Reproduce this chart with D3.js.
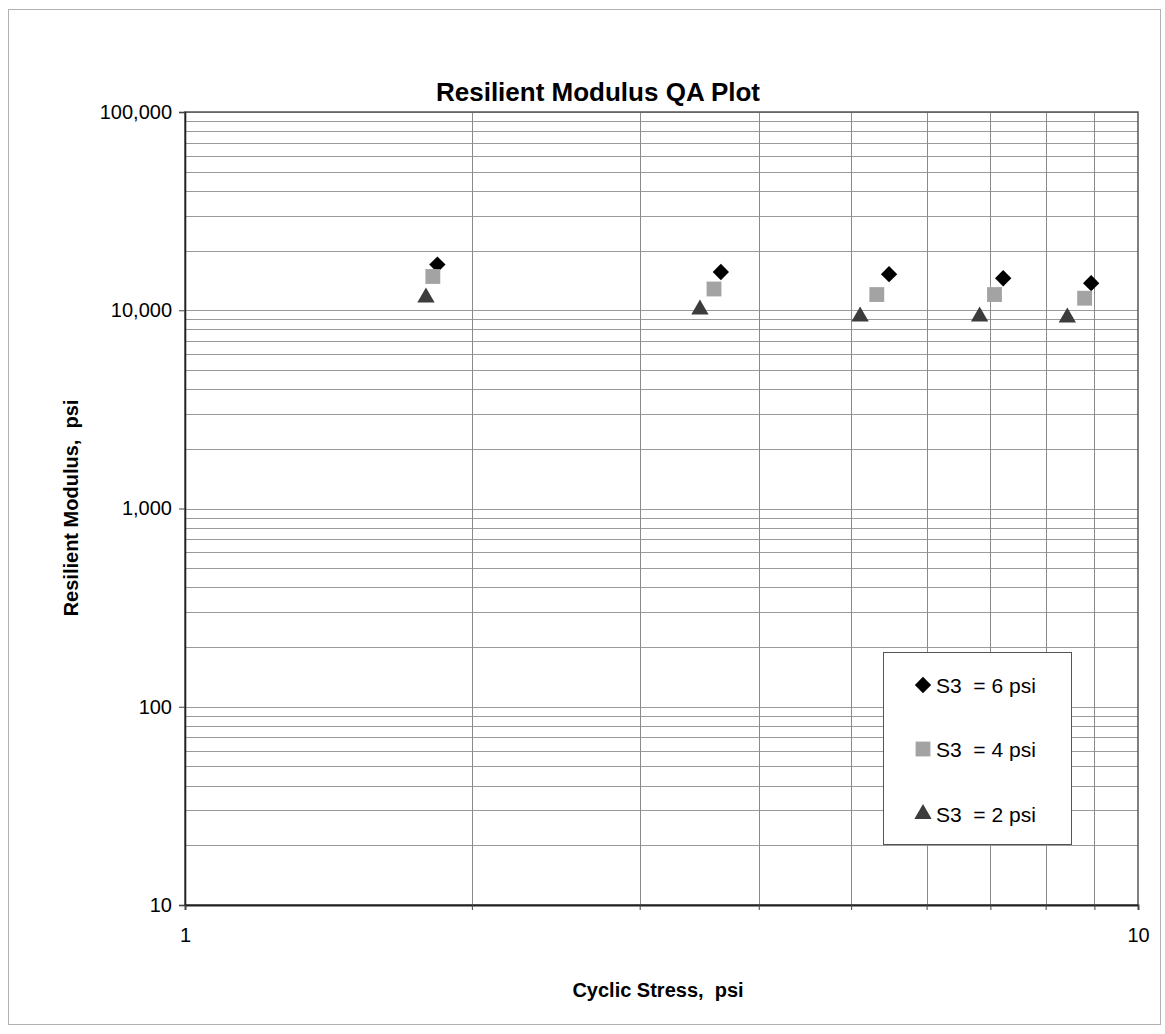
<!DOCTYPE html>
<html>
<head>
<meta charset="utf-8">
<script src="https://cdn.jsdelivr.net/npm/d3@7"></script>
<style>
  html, body { margin: 0; padding: 0; background: #fff; }
  svg { display: block; }
  text { font-family: "Liberation Sans", Arial, sans-serif; fill: #000; }
</style>
</head>
<body>
<svg id="chart" width="1165" height="1034"></svg>
<script>
// ---- Data ----
const seriesNames = ["S3  = 6 psi", "S3  = 4 psi", "S3  = 2 psi"];
const s6x = [1.84, 3.65, 5.48, 7.22, 8.93];
const s6y = [17000, 15600, 15200, 14500, 13700];
const s4x = [1.82, 3.59, 5.32, 7.07, 8.79];
const s4y = [14800, 12800, 12000, 12000, 11500];
const s2x = [1.79, 3.47, 5.11, 6.82, 8.43];
const s2y = [11600, 10100, 9300, 9300, 9200];
const yTickValues = [10, 100, 1000, 10000, 100000];
const xTickLabels = [1, 10];

const titleText = "Resilient Modulus QA Plot";
const xTitle = "Cyclic Stress,  psi";
const yTitle = "Resilient Modulus,  psi";

// ---- Layout ----
const W = 1165, H = 1034;
const plot = { left: 185, right: 1138, top: 112, bottom: 905 };

const svg = d3.select("#chart");

// outer chart border
svg.append("rect")
  .attr("x", 8.5).attr("y", 9.5)
  .attr("width", 1152).attr("height", 1015)
  .attr("fill", "#fff").attr("stroke", "#b0b0b0").attr("stroke-width", 1);

const x = d3.scaleLog().domain([1, 10]).range([plot.left, plot.right]);
const y = d3.scaleLog().domain([10, 100000]).range([plot.bottom, plot.top]);

// gridlines
const hGrid = [];
for (let e = 1; e < 5; e++) for (let m = 1; m <= 9; m++) hGrid.push(m * Math.pow(10, e));
hGrid.push(100000);
const vGrid = [2, 3, 4, 5, 6, 7, 8, 9];

const g = svg.append("g");
g.selectAll("line.hg").data(hGrid).enter().append("line")
  .attr("class", "hg")
  .attr("x1", plot.left).attr("x2", plot.right)
  .attr("y1", d => Math.round(y(d)) + 0.5).attr("y2", d => Math.round(y(d)) + 0.5)
  .attr("stroke", "#9a9a9a").attr("stroke-width", 1);
g.selectAll("line.vg").data(vGrid).enter().append("line")
  .attr("class", "vg")
  .attr("y1", plot.top).attr("y2", plot.bottom)
  .attr("x1", d => Math.round(x(d)) + 0.5).attr("x2", d => Math.round(x(d)) + 0.5)
  .attr("stroke", "#8a8a8a").attr("stroke-width", 1);

// plot area border
svg.append("rect")
  .attr("x", plot.left).attr("y", plot.top)
  .attr("width", plot.right - plot.left).attr("height", plot.bottom - plot.top)
  .attr("fill", "none").attr("stroke", "#555").attr("stroke-width", 1.5);

// axes
const yAxis = d3.axisLeft(y).tickValues(yTickValues).tickFormat(d3.format(",")).tickSize(6).tickPadding(7);
const yg = svg.append("g").attr("transform", `translate(${plot.left},0)`).call(yAxis);
yg.select(".domain").attr("stroke", "#222").attr("stroke-width", 1.6);
yg.selectAll(".tick line").attr("stroke", "#444");
yg.selectAll("text").attr("font-size", 20).attr("fill", "#111")
  .style("font-family", '"Liberation Sans", Arial, sans-serif');

const xAxis = d3.axisBottom(x).tickValues([1, 2, 3, 4, 5, 6, 7, 8, 9, 10])
  .tickFormat(d => xTickLabels.includes(d) ? String(d) : "").tickSize(5).tickPadding(18);
const xg = svg.append("g").attr("transform", `translate(0,${plot.bottom})`).call(xAxis);
xg.select(".domain").attr("stroke", "#222").attr("stroke-width", 1.8);
xg.selectAll(".tick line").attr("stroke", "#444");
xg.selectAll("text").attr("font-size", 20).attr("fill", "#111")
  .style("font-family", '"Liberation Sans", Arial, sans-serif');

// markers
const diamond = d3.symbol().type(d3.symbolDiamond2).size(170);
const square = d3.symbol().type(d3.symbolSquare).size(220);
const triangle = d3.symbol().type(d3.symbolTriangle).size(130);

const series = [
  { name: seriesNames[0], xs: s6x, ys: s6y, sym: diamond, fill: "#000" },
  { name: seriesNames[1], xs: s4x, ys: s4y, sym: square, fill: "#a3a3a3" },
  { name: seriesNames[2], xs: s2x, ys: s2y, sym: triangle, fill: "#3c3c3c" }
];

series.forEach(s => {
  svg.append("g").selectAll("path").data(s.xs.map((v, i) => [v, s.ys[i]])).enter()
    .append("path")
    .attr("d", s.sym)
    .attr("transform", d => `translate(${x(d[0])},${y(d[1])})`)
    .attr("fill", s.fill);
});

// legend
const lg = svg.append("g");
lg.append("rect")
  .attr("x", 883.5).attr("y", 652.5).attr("width", 188).attr("height", 192)
  .attr("fill", "#fff").attr("stroke", "#555").attr("stroke-width", 1);
const legendYs = [685, 749, 814];
series.forEach((s, i) => {
  lg.append("path").attr("d", s.sym).attr("transform", `translate(923,${legendYs[i]})`).attr("fill", s.fill);
  lg.append("text").attr("x", 936).attr("y", legendYs[i]).attr("dy", "0.36em")
    .attr("font-size", 21).style("white-space", "pre").attr("xml:space", "preserve")
    .text(s.name);
});

// titles
svg.append("text").attr("x", 598).attr("y", 101).attr("text-anchor", "middle")
  .attr("font-size", 26).attr("font-weight", "bold").text(titleText);
svg.append("text").attr("x", 658).attr("y", 997).attr("text-anchor", "middle")
  .attr("font-size", 20).attr("font-weight", "bold").style("white-space", "pre").text(xTitle);
svg.append("text").attr("transform", "translate(78,508) rotate(-90)").attr("text-anchor", "middle")
  .attr("font-size", 20).attr("font-weight", "bold").style("white-space", "pre").text(yTitle);
</script>
</body>
</html>
